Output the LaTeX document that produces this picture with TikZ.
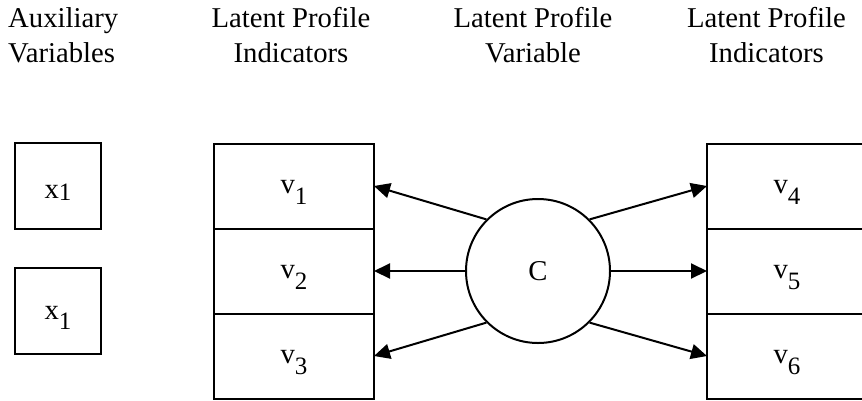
\documentclass[tikz,border=0pt]{standalone}
\usepackage{fontspec}
\setmainfont{Liberation Serif}
\usetikzlibrary{positioning,arrows.meta}

% letter with a lowered index: #1 letter, #2 index, #3 index drop, #4 baseline drop
\newcommand{\lowidx}[4]{\raisebox{-#4}[0pt][0pt]{#1\raisebox{-#3}{\fontsize{25}{25}\selectfont #2}}}

\begin{document}
\begin{tikzpicture}[x=1pt,y=-1pt,
  every node/.style={font=\fontsize{28.7}{35}\selectfont},
  auxbox/.style={draw,line width=2pt,minimum width=86pt,minimum height=86pt,inner sep=0pt},
  indbox/.style={draw,line width=2pt,minimum width=160pt,minimum height=85pt,inner sep=0pt,outer sep=0pt},
  latent/.style={draw,circle,line width=2pt,minimum size=144pt,inner sep=0pt},
  effect/.style={-{Triangle[length=16pt,width=15pt]},line width=2pt},
  heading/.style={align=center,anchor=base,inner sep=0pt}]
\useasboundingbox (0,0) rectangle (862,400);

% column headings
\node[heading,anchor=base west,align=left] (auxhead) at (8,62) {Auxiliary\\Variables};
\node[heading] (lefthead) at (291,62) {Latent Profile\\Indicators};
\node[heading] (midhead) at (533,62) {Latent Profile\\Variable};
\node[heading] (righthead) at (766.5,62) {Latent Profile\\Indicators};

% auxiliary variables
\node[auxbox] (xa) at (58,186) {\lowidx{x}{1}{2pt}{12pt}};
\node[auxbox] (xb) at (58,311) {\lowidx{x}{1}{10pt}{8pt}};

% indicators
\node[indbox] (v1) at (294,186) {\lowidx{v}{1}{11pt}{7.5pt}};
\node[indbox,below=0pt of v1] (v2) {\lowidx{v}{2}{11pt}{7.5pt}};
\node[indbox,below=0pt of v2] (v3) {\lowidx{v}{3}{11pt}{7.5pt}};

\node[indbox] (v4) at (787,186) {\lowidx{v}{4}{11pt}{7.5pt}};
\node[indbox,below=0pt of v4] (v5) {\lowidx{v}{5}{11pt}{7.5pt}};
\node[indbox,below=0pt of v5] (v6) {\lowidx{v}{6}{11pt}{7.5pt}};

% latent class
\node[latent] (C) at (538,271) {\raisebox{-3pt}{C}};

\draw[effect] (C.135) -- (v1.east);
\draw[effect] (C.west) -- (v2.east);
\draw[effect] (C.225) -- (v3.east);
\draw[effect] (C.45) -- (v4.west);
\draw[effect] (C.east) -- (v5.west);
\draw[effect] (C.-45) -- (v6.west);
\end{tikzpicture}
\end{document}
